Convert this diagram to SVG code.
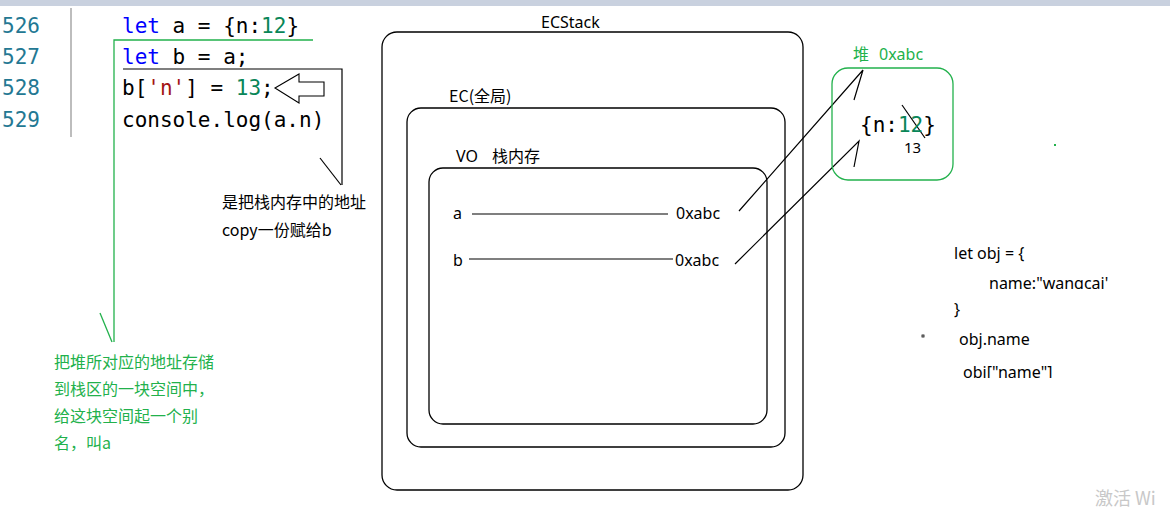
<svg xmlns="http://www.w3.org/2000/svg" width="1170" height="512" viewBox="0 0 1170 512">
<defs>
<style>
.code{font-family:"DejaVu Sans Mono","Liberation Mono",monospace;font-size:21px;fill:#000}
.ln{font-family:"DejaVu Sans Mono","Liberation Mono",monospace;font-size:21px;fill:#237893}
.kw{fill:#0000ff}.num{fill:#098658}.str{fill:#a31515}
.t{font-family:"Noto Sans","Noto Sans CJK SC",sans-serif;font-size:16px;fill:#000}
.cn{font-family:"Noto Sans CJK SC",sans-serif;font-size:16px;fill:#000}
.g{fill:#22b14c}
.box{fill:none;stroke:#000;stroke-width:1.3}
.ln1{stroke:#000;stroke-width:1.2;fill:none}
.gl{stroke:#22b14c;stroke-width:1.3;fill:none}
</style>
<clipPath id="c1"><rect x="980" y="270" width="150" height="19"/></clipPath>
<clipPath id="c2"><rect x="950" y="360" width="150" height="18"/></clipPath>
</defs>
<rect width="1170" height="512" fill="#fff"/>
<rect x="0" y="0" width="1170" height="6" fill="#c9d1df"/>

<g id="editor">
<line x1="71" y1="8" x2="71" y2="137" stroke="#9a9a9a" stroke-width="1.3"/>
<text class="ln" x="2" y="33">526</text>
<text class="ln" x="2" y="64">527</text>
<text class="ln" x="2" y="95">528</text>
<text class="ln" x="2" y="127">529</text>
<text class="code" x="122" y="33"><tspan class="kw">let</tspan> a = {n:<tspan class="num">12</tspan>}</text>
<text class="code" x="122" y="64"><tspan class="kw">let</tspan> b = a;</text>
<text class="code" x="122" y="95">b[<tspan class="str">'n'</tspan>] = <tspan class="num">13</tspan>;</text>
<text class="code" x="122" y="127">console.log(a.n)</text>
</g>

<g id="connectors">
<polyline class="gl" points="313,40 114,40 114,342"/>
<line class="gl" x1="100" y1="313" x2="112" y2="342"/>
<polyline class="ln1" points="123,69 342,69 342,185"/>
<line class="ln1" x1="320" y1="158" x2="341" y2="185"/>
<polygon points="275,88 299,74 299,82 324,82 324,96 299,96 299,103" fill="#fff" stroke="#000" stroke-width="1.1"/>
<line class="ln1" x1="472" y1="214" x2="668" y2="214"/>
<line class="ln1" x1="469" y1="259" x2="673" y2="259"/>
<polyline class="ln1" points="739,211 863,70 854,100"/>
<polyline class="ln1" points="735,264 859,141 854,167"/>
<line class="ln1" x1="902" y1="105" x2="925" y2="138"/>
</g>

<g id="note-copy">
<text class="cn" x="222" y="208">是把栈内存中的地址</text>
<text class="cn" x="222" y="236">copy一份赋给b</text>
</g>

<g id="note-heap" class="cn">
<text class="cn g" x="54" y="368">把堆所对应的地址存储</text>
<text class="cn g" x="54" y="395">到栈区的一块空间中，</text>
<text class="cn g" x="54" y="422">给这块空间起一个别</text>
<text class="cn g" x="54" y="449">名，叫a</text>
</g>

<g id="ecstack">
<rect class="box" x="382" y="32" width="421" height="458" rx="15"/>
<text class="t" x="541" y="28">ECStack</text>
</g>

<g id="ec">
<rect class="box" x="407" y="108" width="378" height="339" rx="14"/>
<text class="cn" x="449" y="102">EC(全局)</text>
</g>

<g id="vo">
<rect class="box" x="429" y="168" width="338" height="256" rx="14"/>
<text class="t" x="456" y="162">VO</text>
<text class="cn" x="492" y="162">栈内存</text>
<text class="t" x="453" y="219">a</text>
<text class="t" x="676" y="219">0xabc</text>
<text class="t" x="453" y="266">b</text>
<text class="t" x="675" y="266">0xabc</text>
</g>

<g id="heap">
<rect x="832" y="68" width="121" height="112" rx="16" fill="none" stroke="#22b14c" stroke-width="1.3"/>
<text class="cn g" x="853" y="60">堆</text>
<text class="t g" x="879" y="60">0xabc</text>
<text class="code" x="860" y="132">{n:<tspan class="num">12</tspan>}</text>
<text class="t" x="904" y="153" style="font-size:15px">13</text>
<rect x="1054" y="144" width="2" height="2" fill="#22b14c"/>
</g>

<g id="obj-note">
<text class="t" x="954" y="259">let obj = {</text>
<text class="t" x="989" y="289" clip-path="url(#c1)">name:"wangcai'</text>
<text class="t" x="954" y="315">}</text>
<rect x="922" y="335" width="2" height="2" fill="none" stroke="#000" stroke-width="0.8"/>
<text class="t" x="959" y="345">obj.name</text>
<text class="t" x="963" y="378" clip-path="url(#c2)">obj["name"]</text>
</g>

<text x="1095" y="505" style="font-family:'Noto Sans CJK SC',sans-serif;font-size:18px;fill:#c8c8c8">激活 Wi</text>
</svg>
